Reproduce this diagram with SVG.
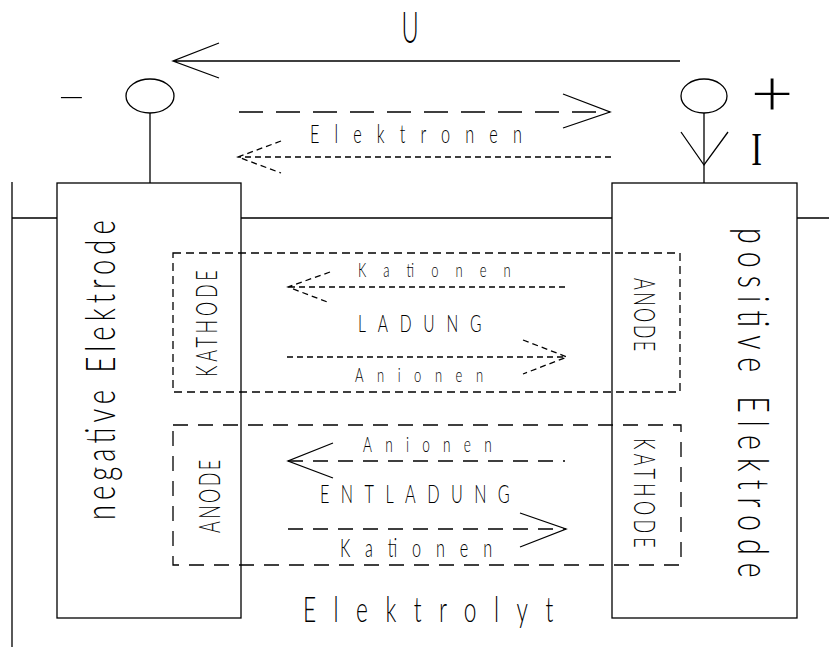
<svg xmlns="http://www.w3.org/2000/svg" width="829" height="649" viewBox="0 0 829 649">
<style>
.ln{stroke:#000;stroke-width:1.3;fill:none}
.dot{stroke-dasharray:6 4}
.dsh{stroke-dasharray:24 13}
.dsh2{stroke-dasharray:15 10}
.dbox{stroke-dasharray:8 5}
.t{font-family:Lato,"Liberation Sans",sans-serif;font-weight:300;fill:#000}
.ts{font-family:"Liberation Serif",serif;fill:#000}
</style>
<rect width="829" height="649" fill="#fff"/>
<g id="connectors">
<path class="ln" d="M12,182 V647 M12,218 H57 M241,218 H612 M797,218 H829 M150,113 V183 M704,113 V183"/>
<path id="arrow-U" class="ln" d="M173,61 H680 M219,43 L173,61 L219,78"/>
<path id="arrow-el-top" class="ln dsh" d="M239,112 H610"/>
<path class="ln" d="M563,94 L610,112 L563,128"/>
<path id="arrow-el-bottom" class="ln dot" d="M611,157 H238 M281,141 L238,157 L281,173"/>
<path id="arrow-I" class="ln" d="M681,132 L704,165 L728,132"/>
<path id="arrow-lad-kat" class="ln dot" d="M565,287 H288 M330,272 L288,287 L330,303"/>
<path id="arrow-lad-an" class="ln dot" d="M287,357 H567 M523,340 L567,357 L523,374"/>
<path id="arrow-ent-an" class="ln dsh2" d="M288,461 H565"/>
<path class="ln" d="M333,443 L288,461 L333,478"/>
<path id="arrow-ent-kat" class="ln dsh2" d="M288,529 H566"/>
<path class="ln" d="M520,513 L566,529 L520,547"/>
</g>
<g id="terminal-neg">
<ellipse class="ln" cx="150" cy="96" rx="24" ry="17"/>
<text class="t" font-size="30" text-anchor="middle" transform="translate(71.5,106) scale(3,1)">-</text>
</g>
<g id="terminal-pos">
<ellipse class="ln" cx="704" cy="96" rx="23" ry="17"/>
<text class="t" font-size="64" text-anchor="middle" transform="translate(772,115) scale(1.15,1)">+</text>
<text class="ts" font-size="46" text-anchor="middle" transform="translate(756.5,165) scale(0.7,1)">I</text>
</g>
<g id="label-U">
<text class="t" font-size="43" text-anchor="middle" transform="translate(410,43) scale(0.55,1)">U</text>
</g>
<g id="label-elektronen">
<text class="t" font-size="25" transform="translate(310,143) scale(0.65,1)" textLength="326" lengthAdjust="spacing">Elektronen</text>
</g>
<g id="electrode-neg">
<rect class="ln" x="57" y="183" width="184" height="435"/>
<text class="t" font-size="42" transform="translate(115,520) rotate(-90) scale(0.65,1)" textLength="461" lengthAdjust="spacing">negative Elektrode</text>
</g>
<g id="electrode-pos">
<rect class="ln" x="612" y="183" width="185" height="435"/>
<text class="t" font-size="44" transform="translate(738,228) rotate(90) scale(0.65,1)" textLength="538" lengthAdjust="spacing">positive Elektrode</text>
</g>
<g id="box-ladung">
<rect class="ln dbox" x="173" y="253" width="507" height="139"/>
<text class="t" font-size="30" transform="translate(217,377) rotate(-90) scale(0.6,1)" textLength="178" lengthAdjust="spacing">KATHODE</text>
<text class="t" font-size="30" transform="translate(634,278) rotate(90) scale(0.6,1)" textLength="122" lengthAdjust="spacing">ANODE</text>
<text class="t" font-size="20" transform="translate(358,277) scale(0.65,1)" textLength="235" lengthAdjust="spacing">Kationen</text>
<text class="t" font-size="24" transform="translate(358,332) scale(0.65,1)" textLength="190" lengthAdjust="spacing">LADUNG</text>
<text class="t" font-size="20" transform="translate(355,382) scale(0.65,1)" textLength="197" lengthAdjust="spacing">Anionen</text>
</g>
<g id="box-entladung">
<rect class="ln dsh2" x="173" y="425" width="508" height="140"/>
<text class="t" font-size="30" transform="translate(220,533) rotate(-90) scale(0.6,1)" textLength="122" lengthAdjust="spacing">ANODE</text>
<text class="t" font-size="30" transform="translate(634,438) rotate(90) scale(0.6,1)" textLength="183" lengthAdjust="spacing">KATHODE</text>
<text class="t" font-size="21" transform="translate(363,452) scale(0.65,1)" textLength="198" lengthAdjust="spacing">Anionen</text>
<text class="t" font-size="25" transform="translate(320,503) scale(0.65,1)" textLength="292" lengthAdjust="spacing">ENTLADUNG</text>
<text class="t" font-size="25" transform="translate(340,557) scale(0.65,1)" textLength="234" lengthAdjust="spacing">Kationen</text>
</g>
<g id="label-elektrolyt">
<text class="t" font-size="35" transform="translate(303,622) scale(0.65,1)" textLength="385" lengthAdjust="spacing">Elektrolyt</text>
</g>
</svg>
